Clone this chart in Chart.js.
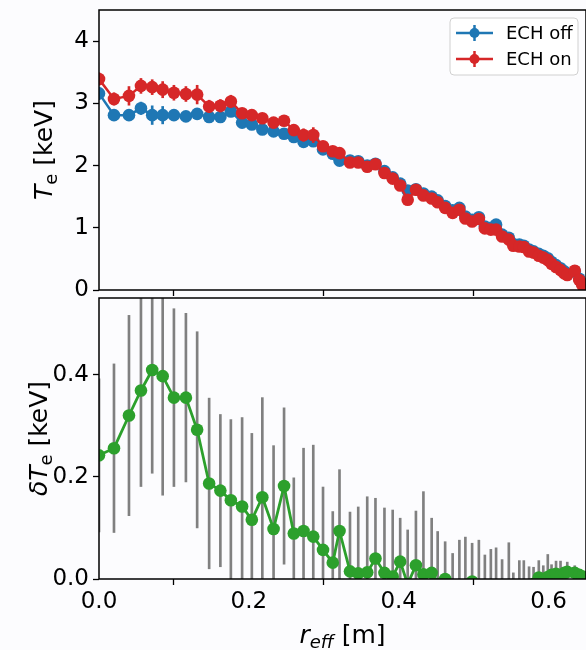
<!DOCTYPE html>
<html>
<head>
<meta charset="utf-8">
<script src="https://cdn.jsdelivr.net/npm/chart.js@4.4.0/dist/chart.umd.min.js"></script>
<style>
  body { margin: 0; background: #fcfcfe; }
  #wrap { position: relative; width: 586px; height: 650px; }
  #top { position: absolute; left: 0; top: 0; }
  #bottom { position: absolute; left: 0; top: 296px; }
</style>
</head>
<body>
<div id="wrap">
  <canvas id="top" width="586" height="296"></canvas>
  <canvas id="bottom" width="586" height="354"></canvas>
</div>
<script>
// radius grid shared by all series [m]
const r = [0.000, 0.020, 0.040, 0.056, 0.071, 0.085, 0.100, 0.116, 0.131, 0.147,
  0.162, 0.176, 0.191, 0.204, 0.218, 0.233, 0.247, 0.260, 0.273, 0.286,
  0.299, 0.312, 0.321, 0.335, 0.346, 0.358, 0.369, 0.381, 0.392, 0.402,
  0.412, 0.423, 0.433, 0.444, 0.452, 0.462, 0.472, 0.481, 0.489, 0.498,
  0.507, 0.515, 0.523, 0.530, 0.538, 0.547, 0.553, 0.561, 0.567, 0.574,
  0.580, 0.587, 0.593, 0.599, 0.604, 0.610, 0.616, 0.621, 0.625, 0.635,
  0.641, 0.645];

// Te, ECH off [keV]
const teOff = [3.16, 2.81, 2.81, 2.92, 2.81, 2.81, 2.81, 2.79, 2.83, 2.78,
  2.78, 2.87, 2.69, 2.66, 2.58, 2.55, 2.51, 2.46, 2.38, 2.39,
  2.26, 2.19, 2.08, 2.08, 2.07, 2.00, 2.03, 1.91, 1.81, 1.71,
  1.60, 1.62, 1.55, 1.50, 1.44, 1.35, 1.28, 1.32, 1.18, 1.13,
  1.17, 1.02, 1.00, 1.05, 0.89, 0.84, 0.74, 0.73, 0.71, 0.65,
  0.62, 0.58, 0.55, 0.51, 0.45, 0.40, 0.35, 0.30, 0.26, 0.30,
  0.18, 0.10];
const teOffErr = [0.10, 0.06, 0.06, 0.10, 0.15, 0.14, 0.08, 0.06, 0.08, 0.06,
  0.06, 0.08, 0.06, 0.06, 0.06, 0.06, 0.06, 0.06, 0.06, 0.06,
  0.05, 0.05, 0.05, 0.04, 0.04, 0.04, 0.04, 0.04, 0.04, 0.04,
  0.04, 0.04, 0.04, 0.04, 0.04, 0.04, 0.04, 0.04, 0.04, 0.04,
  0.04, 0.04, 0.04, 0.04, 0.04, 0.04, 0.04, 0.04, 0.04, 0.04,
  0.03, 0.03, 0.03, 0.03, 0.03, 0.03, 0.03, 0.03, 0.03, 0.03,
  0.03, 0.03];

// Te, ECH on [keV]
const teOn = [3.39, 3.07, 3.12, 3.28, 3.26, 3.22, 3.17, 3.15, 3.14, 2.95,
  2.96, 3.03, 2.84, 2.81, 2.76, 2.69, 2.72, 2.57, 2.49, 2.49,
  2.31, 2.23, 2.20, 2.05, 2.05, 1.98, 2.02, 1.88, 1.79, 1.68,
  1.45, 1.61, 1.52, 1.47, 1.41, 1.32, 1.24, 1.29, 1.15, 1.10,
  1.14, 0.99, 0.97, 0.97, 0.86, 0.81, 0.71, 0.70, 0.69, 0.62,
  0.60, 0.55, 0.52, 0.48, 0.42, 0.37, 0.32, 0.27, 0.24, 0.31,
  0.16, 0.08];
const teOnErr = [0.10, 0.10, 0.15, 0.12, 0.12, 0.13, 0.12, 0.12, 0.15, 0.10,
  0.10, 0.10, 0.08, 0.08, 0.08, 0.08, 0.08, 0.08, 0.10, 0.12,
  0.07, 0.07, 0.07, 0.05, 0.05, 0.05, 0.05, 0.05, 0.08, 0.05,
  0.05, 0.05, 0.05, 0.05, 0.05, 0.05, 0.05, 0.05, 0.05, 0.05,
  0.04, 0.04, 0.04, 0.04, 0.04, 0.04, 0.04, 0.04, 0.04, 0.04,
  0.03, 0.03, 0.03, 0.03, 0.03, 0.03, 0.03, 0.03, 0.03, 0.03,
  0.03, 0.03];

// delta Te [keV] and its error
const dTe = [0.242, 0.256, 0.320, 0.369, 0.409, 0.397, 0.355, 0.355, 0.292, 0.187,
  0.173, 0.154, 0.142, 0.116, 0.160, 0.098, 0.182, 0.089, 0.094, 0.083,
  0.057, 0.032, 0.094, 0.015, 0.011, 0.013, 0.040, 0.012, 0.005, 0.034,
  -0.010, 0.027, 0.009, 0.012, -0.010, 0.000, -0.030, -0.040, -0.020, -0.005,
  -0.030, -0.050, -0.040, -0.030, -0.040, -0.030, -0.050, -0.040, -0.030, -0.020,
  -0.010, 0.003, -0.005, 0.004, 0.008, 0.010, 0.006, 0.012, 0.014, 0.012,
  0.008, 0.005];
const dTeErr = [0.150, 0.165, 0.196, 0.188, 0.202, 0.233, 0.174, 0.165, 0.192, 0.167,
  0.149, 0.158, 0.174, 0.169, 0.195, 0.163, 0.153, 0.109, 0.162, 0.179,
  0.123, 0.100, 0.120, 0.116, 0.130, 0.148, 0.118, 0.127, 0.130, 0.085,
  0.106, 0.106, 0.162, 0.107, 0.103, 0.073, 0.080, 0.116, 0.102, 0.075,
  0.106, 0.097, 0.098, 0.091, 0.078, 0.101, 0.062, 0.076, 0.066, 0.044,
  0.033, 0.033, 0.031, 0.044, 0.020, 0.025, 0.029, 0.011, 0.019, 0.014,
  0.006, 0.009];

const xTicks = [0.0, 0.2, 0.4, 0.6];
const teTicks = [0, 1, 2, 3, 4];
const dTeTicks = [0.0, 0.2, 0.4];

const BLUE = '#1f77b4', RED = '#d62728', GREEN = '#2ca02c', GRAY = '#808080';
const FONT = '"DejaVu Sans", sans-serif';

const pts = (ys) => r.map((x, i) => ({ x: x, y: ys[i] }));
const bars = (ys, es) => r.map((x, i) => ({ x: x, y: [ys[i] - es[i], ys[i] + es[i]] }));

// box around the plot area
const frame = {
  id: 'frame',
  afterDatasetsDraw(chart) {
    const a = chart.chartArea, ctx = chart.ctx;
    ctx.save();
    ctx.strokeStyle = '#000';
    ctx.lineWidth = 1.5;
    ctx.strokeRect(a.left, a.top, a.right - a.left, a.bottom - a.top);
    ctx.restore();
  }
};

// axis titles with italic and subscript parts
function drawParts(ctx, parts, size) {
  const fontOf = (p) => (p.i ? 'italic ' : '') + Math.round(p.sub ? size * 0.7 : size) + 'px ' + FONT;
  let w = 0;
  parts.forEach(p => { ctx.font = fontOf(p); w += ctx.measureText(p.t).width; });
  let x = -w / 2;
  ctx.textBaseline = 'alphabetic';
  ctx.fillStyle = '#000';
  parts.forEach(p => {
    ctx.font = fontOf(p);
    ctx.fillText(p.t, x, p.sub ? size * 0.55 : size * 0.35);
    x += ctx.measureText(p.t).width;
  });
}
const mathTitles = {
  id: 'mathTitles',
  afterDraw(chart, args, opts) {
    const ctx = chart.ctx, a = chart.chartArea;
    if (opts.y) {
      ctx.save();
      ctx.translate(opts.y.x, (a.top + a.bottom) / 2);
      ctx.rotate(-Math.PI / 2);
      drawParts(ctx, opts.y.parts, opts.size);
      ctx.restore();
    }
    if (opts.x) {
      ctx.save();
      ctx.translate((a.left + a.right) / 2, a.bottom + opts.x.dy);
      drawParts(ctx, opts.x.parts, opts.size);
      ctx.restore();
    }
  }
};

// matplotlib-like legend box in the upper right
const boxLegend = {
  id: 'boxLegend',
  afterDraw(chart) {
    const ctx = chart.ctx;
    const items = chart.data.datasets.filter(d => d.label);
    const x0 = 450, y0 = 18, w = 128, h = 57;
    ctx.save();
    ctx.fillStyle = 'rgba(255,255,255,0.85)';
    ctx.strokeStyle = '#d0d0d0';
    ctx.lineWidth = 1;
    ctx.beginPath();
    ctx.roundRect(x0, y0, w, h, 4);
    ctx.fill();
    ctx.stroke();
    items.forEach((d, i) => {
      const y = 33 + i * 26;
      ctx.strokeStyle = d.borderColor;
      ctx.lineWidth = 2.5;
      ctx.beginPath();
      ctx.moveTo(456, y); ctx.lineTo(493, y);
      ctx.moveTo(474.5, y - 8); ctx.lineTo(474.5, y + 8);
      ctx.stroke();
      ctx.fillStyle = d.borderColor;
      ctx.beginPath();
      ctx.arc(474.5, y, 5, 0, Math.PI * 2);
      ctx.fill();
      ctx.fillStyle = '#000';
      ctx.font = '18px ' + FONT;
      ctx.textBaseline = 'middle';
      ctx.fillText(d.label, 506, y + 1);
    });
    ctx.restore();
  }
};

const tickFont = { family: FONT, size: 23 };
const gridStyle = { drawOnChartArea: false, tickLength: 6, tickWidth: 1.3, tickColor: '#000' };
const noPad = (s) => { s.paddingTop = 0; s.paddingBottom = 0; s.paddingLeft = 0; s.paddingRight = 0; };

function xScale(showLabels, height) {
  return {
    type: 'linear', min: 0, max: 0.65, offset: false,
    afterFit: (s) => { s.height = height; noPad(s); },
    afterBuildTicks: (s) => { s.ticks = xTicks.map(v => ({ value: v })); },
    grid: gridStyle, border: { display: false },
    ticks: { display: showLabels, font: tickFont, color: '#000', padding: 3, maxRotation: 0,
      callback: (v) => v.toFixed(1) }
  };
}
function yScale(max, ticks, fmt) {
  return {
    type: 'linear', min: 0, max: max,
    afterFit: (s) => { s.width = 99; noPad(s); },
    afterBuildTicks: (s) => { s.ticks = ticks.map(v => ({ value: v })); },
    grid: gridStyle, border: { display: false },
    ticks: { font: tickFont, color: '#000', padding: 4, callback: fmt }
  };
}

const errBar = (data, color, order) => ({
  type: 'bar', data: data, backgroundColor: color, borderWidth: 0,
  barThickness: 2, grouped: false, order: order, clip: 0
});
const lineSet = (label, data, color, width, order) => ({
  type: 'line', label: label, data: data, borderColor: color, backgroundColor: color,
  borderWidth: width, pointRadius: 6.3, pointHoverRadius: 6.3, pointBorderWidth: 0,
  tension: 0, order: order, clip: 0
});

new Chart(document.getElementById('top'), {
  type: 'line',
  data: {
    datasets: [
      errBar(bars(teOff, teOffErr), BLUE, 4),
      lineSet('ECH off', pts(teOff), BLUE, 2.5, 3),
      errBar(bars(teOn, teOnErr), RED, 2),
      lineSet('ECH on', pts(teOn), RED, 2.5, 1)
    ]
  },
  options: {
    responsive: false, animation: false, events: [],
    layout: { autoPadding: false, padding: { top: 10, right: 0, left: 0, bottom: 0 } },
    scales: {
      x: xScale(false, 6),
      y: yScale(4.5, teTicks, (v) => String(v))
    },
    plugins: {
      legend: { display: false }, tooltip: { enabled: false },
      mathTitles: { size: 25, y: { x: 43, parts: [{ t: 'T', i: true }, { t: 'e', sub: true }, { t: ' [keV]' }] } }
    }
  },
  plugins: [frame, mathTitles, boxLegend]
});

new Chart(document.getElementById('bottom'), {
  type: 'line',
  data: {
    datasets: [
      errBar(bars(dTe, dTeErr), GRAY, 2),
      lineSet('', pts(dTe), GREEN, 2.8, 1)
    ]
  },
  options: {
    responsive: false, animation: false, events: [],
    layout: { autoPadding: false, padding: { top: 2, right: 0, left: 0, bottom: 0 } },
    scales: {
      x: xScale(true, 71),
      y: yScale(0.55, dTeTicks, (v) => v.toFixed(1))
    },
    plugins: {
      legend: { display: false }, tooltip: { enabled: false },
      mathTitles: { size: 25,
        y: { x: 38, parts: [{ t: 'δ', i: true }, { t: 'T', i: true }, { t: 'e', sub: true }, { t: ' [keV]' }] },
        x: { dy: 55, parts: [{ t: 'r', i: true }, { t: 'eff', i: true, sub: true }, { t: ' [m]' }] } }
    }
  },
  plugins: [frame, mathTitles]
});
</script>
</body>
</html>
